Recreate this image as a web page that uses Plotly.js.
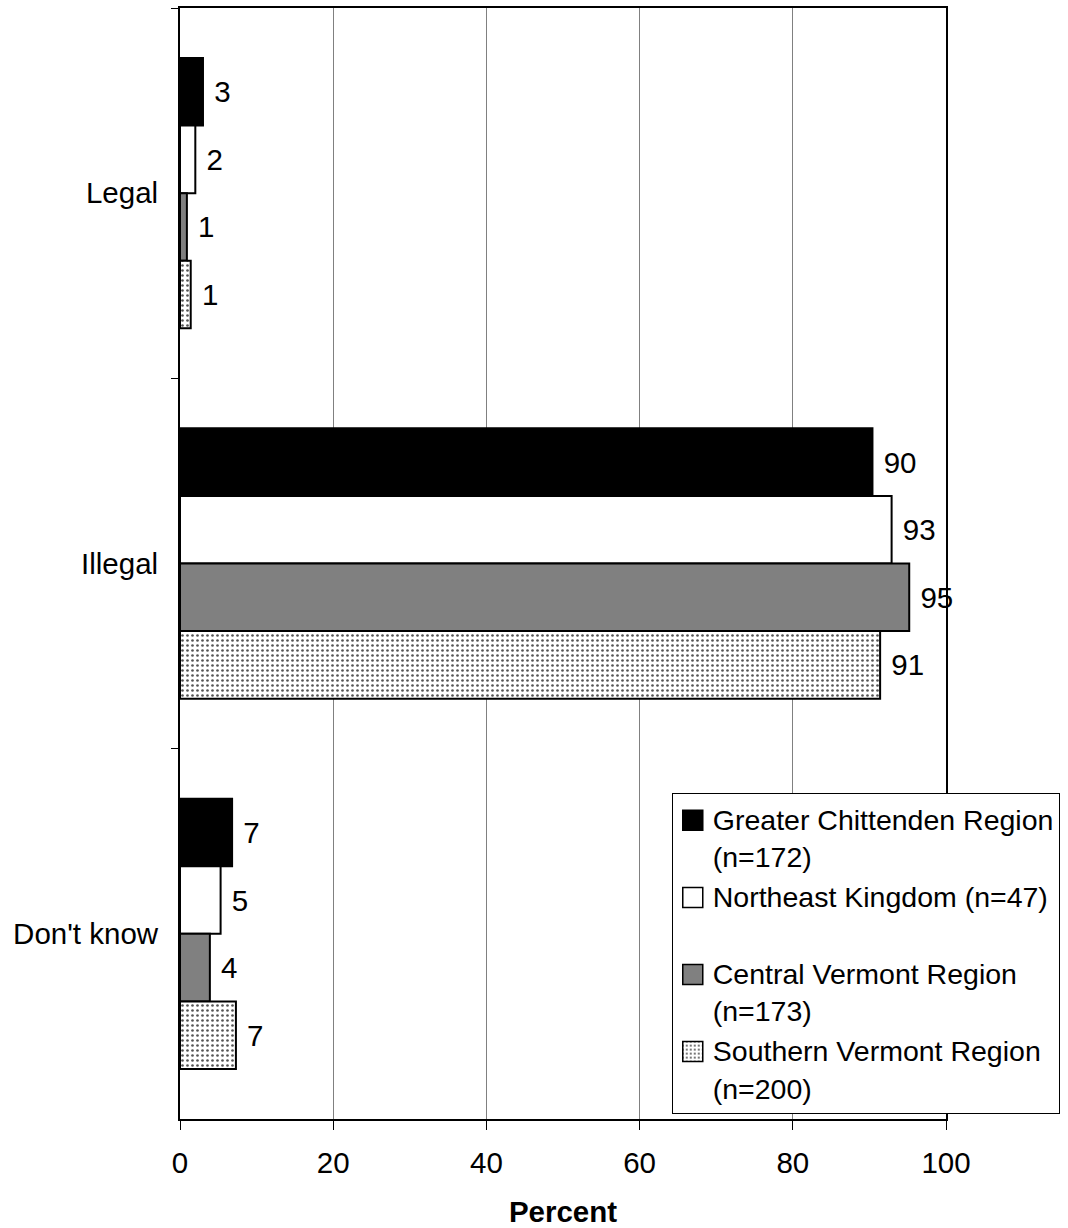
<!DOCTYPE html>
<html>
<head>
<meta charset="utf-8">
<script src="https://cdn.plot.ly/plotly-3.0.1.min.js"></script>
<style>
  html, body { margin: 0; padding: 0; background: #fff; }
  #chart { width: 1068px; height: 1228px; }
</style>
</head>
<body>
<div id="chart"></div>
<script>
// Categories (top to bottom)
const categories = ["Legal", "Illegal", "Don't know"];

// Series names
const seriesNames = [
  "Greater Chittenden Region<br>(n=172)",
  "Northeast Kingdom (n=47)<br> ",
  "Central Vermont Region<br>(n=173)",
  "Southern Vermont Region<br>(n=200)"
];

// Values (percent)
const chittenden = [3.0, 90.4, 6.8];
const northeast  = [2.0, 92.9, 5.3];
const central    = [0.9, 95.2, 3.9];
const southern   = [1.4, 91.4, 7.3];

// Printed labels
const chittendenLabels = ["3", "90", "7"];
const northeastLabels  = ["2", "93", "5"];
const centralLabels    = ["1", "95", "4"];
const southernLabels   = ["1", "91", "7"];

const xTicks = [0, 20, 40, 60, 80, 100];

const FONT = "Liberation Sans, Arial, Helvetica, sans-serif";
const FS = 29.5;

function barTrace(name, vals, labels, color, pattern) {
  const t = {
    type: "bar",
    orientation: "h",
    name: name,
    y: categories,
    x: vals,
    text: labels,
    texttemplate: " %{text}",
    textposition: "outside",
    textfont: { family: FONT, size: FS, color: "#000" },
    cliponaxis: false,
    marker: { color: color, line: { color: "#000", width: 2 } },
    hoverinfo: "x+y"
  };
  if (pattern) t.marker.pattern = pattern;
  return t;
}

const data = [
  barTrace(seriesNames[0], chittenden, chittendenLabels, "#000000"),
  barTrace(seriesNames[1], northeast, northeastLabels, "#ffffff"),
  barTrace(seriesNames[2], central, centralLabels, "#808080"),
  barTrace(seriesNames[3], southern, southernLabels, "#ffffff",
    { shape: ".", fgcolor: "#555555", bgcolor: "#ffffff", size: 5, solidity: 0.22 })
];

const layout = {
  width: 1068,
  height: 1228,
  margin: { l: 180, r: 120, t: 8, b: 109, pad: 0 },
  paper_bgcolor: "#ffffff",
  plot_bgcolor: "#ffffff",
  font: { family: FONT, size: FS, color: "#000" },
  barmode: "group",
  bargap: 0.27,
  bargroupgap: 0,
  showlegend: true,
  legend: {
    x: 0.642, xanchor: "left",
    y: 0.2934, yanchor: "top",
    bgcolor: "#ffffff",
    bordercolor: "#000000",
    borderwidth: 1,
    font: { family: FONT, size: 28.5, color: "#000" },
    traceorder: "normal",
    tracegroupgap: 0
  },
  xaxis: {
    range: [0, 100],
    tickvals: xTicks,
    ticktext: xTicks.map(String),
    ticks: "outside",
    ticklen: 9,
    tickwidth: 1,
    tickcolor: "#000",
    ticklabelstandoff: 8,
    showgrid: true,
    gridcolor: "#808080",
    gridwidth: 1,
    zeroline: false,
    showline: true,
    linecolor: "#000",
    linewidth: 2,
    mirror: true,
    tickfont: { family: FONT, size: FS, color: "#000" },
    title: { text: "<b>Percent</b>", font: { family: FONT, size: FS, color: "#000" }, standoff: 32 }
  },
  yaxis: {
    type: "category",
    categoryorder: "array",
    categoryarray: categories,
    autorange: "reversed",
    ticks: "outside",
    tickson: "boundaries",
    ticklen: 7,
    tickwidth: 1,
    tickcolor: "#000",
    ticklabelstandoff: 14,
    showgrid: false,
    zeroline: false,
    showline: true,
    linecolor: "#000",
    linewidth: 2,
    mirror: true,
    tickfont: { family: FONT, size: FS, color: "#000" }
  }
};

Plotly.newPlot("chart", data, layout, { staticPlot: true, displayModeBar: false }).then(function (gd) {
  // enlarge legend swatches and align them with the first text line
  const items = gd.querySelectorAll(".legend .traces");
  items.forEach(function (it) {
    const txt = it.querySelector("text.legendtext");
    const pts = it.querySelector(".legendpoints");
    if (!pts) return;
    let shift = 0;
    if (txt) {
      const bb = txt.getBBox();
      const lines = it.querySelectorAll("text.legendtext tspan.line");
      if (lines.length > 1) {
        shift = -(bb.height / lines.length) / 2;
      }
    }
    pts.setAttribute("transform", "translate(0," + shift + ")");
    pts.querySelectorAll("path").forEach(function (p) {
      p.setAttribute("d", "M10,10H-10V-10H10Z");
      p.style.strokeWidth = "1.5px";
      p.style.stroke = "#000";
    });
  });
});
</script>
</body>
</html>
